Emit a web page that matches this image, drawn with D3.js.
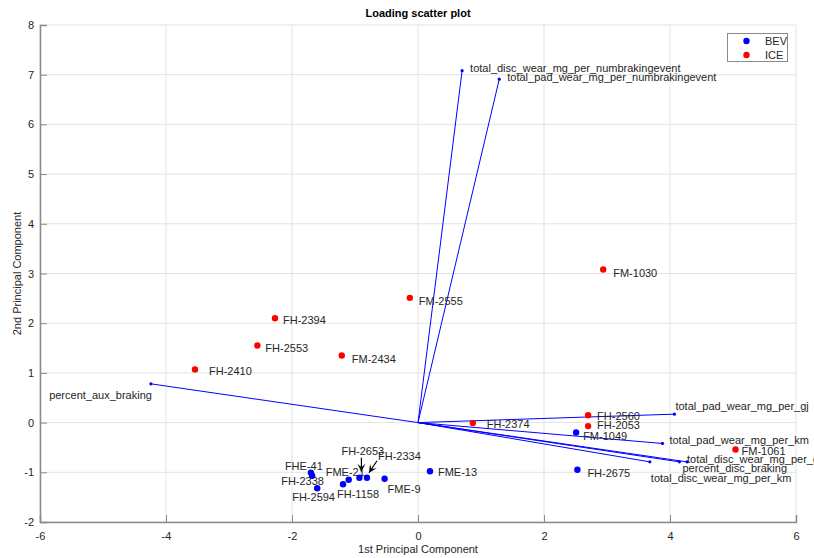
<!DOCTYPE html>
<html>
<head>
<meta charset="utf-8">
<script src="https://cdn.jsdelivr.net/npm/d3@7"></script>
<style>
  html, body { margin: 0; padding: 0; background: #fff; }
  svg { display: block; font-family: "Liberation Sans", Arial, Helvetica, sans-serif; }
</style>
</head>
<body>
<svg id="chart" width="814" height="558"></svg>
<script>
// Vehicle scores on the first two principal components
const vehicleNames = ["FM-1030", "FM-2555", "FH-2394", "FH-2553", "FM-2434", "FH-2410", "FH-2374", "FH-2560", "FH-2053", "FM-1061",
                      "FM-1049", "FH-2675", "FME-13", "FME-9", "FH-2334", "FH-2653", "FME-21", "FH-1158", "FHE-41", "FH-2338", "FH-2594"];
const vehicleGroup = ["ICE", "ICE", "ICE", "ICE", "ICE", "ICE", "ICE", "ICE", "ICE", "ICE",
                      "BEV", "BEV", "BEV", "BEV", "BEV", "BEV", "BEV", "BEV", "BEV", "BEV", "BEV"];
const pc1Scores = [2.94, -0.13, -2.27, -2.55, -1.21, -3.54, 0.87, 2.70, 2.70, 5.04,
                   2.51, 2.53, 0.19, -0.53, -0.81, -0.93, -1.10, -1.19, -1.70, -1.68, -1.60];
const pc2Scores = [3.08, 2.51, 2.10, 1.55, 1.35, 1.07, -0.01, 0.15, -0.07, -0.54,
                   -0.20, -0.95, -0.98, -1.13, -1.11, -1.11, -1.15, -1.24, -1.01, -1.07, -1.32];

// Variable loadings (scaled) drawn as vectors from the origin
const variableNames = ["total_disc_wear_mg_per_numbrakingevent", "total_pad_wear_mg_per_numbrakingevent", "percent_aux_braking",
                       "total_pad_wear_mg_per_gj", "total_pad_wear_mg_per_km", "total_disc_wear_mg_per_gj",
                       "percent_disc_braking", "total_disc_wear_mg_per_km"];
const loadingPC1 = [0.70, 1.29, -4.24, 4.07, 3.88, 4.27, 4.15, 3.68];
const loadingPC2 = [7.08, 6.91, 0.78, 0.17, -0.42, -0.79, -0.79, -0.79];

// Axis ticks
const xTicks = [-6, -4, -2, 0, 2, 4, 6];
const yTicks = [-2, -1, 0, 1, 2, 3, 4, 5, 6, 7, 8];
const legendGroups = ["BEV", "ICE"];

// Label placement (pixel offsets from each mark)
const vehicleLabelOffset = {
  "FM-1030": [10, 4], "FM-2555": [9, 3.5], "FH-2394": [8, 1.5], "FH-2553": [8, 2.5], "FM-2434": [10, 4],
  "FH-2410": [14, 2], "FH-2374": [14, 1], "FH-2560": [9, 1], "FH-2053": [9, -1], "FM-1061": [6, 2],
  "FM-1049": [7, 4], "FH-2675": [10, 3], "FME-13": [8, 1], "FME-9": [3, 10], "FH-2334": [11, -22],
  "FH-2653": [-18, -27], "FME-21": [-23, -8], "FH-1158": [-6, 10], "FHE-41": [-26, -7],
  "FH-2338": [-31, 5], "FH-2594": [-25, 9]
};
const callouts = { "FH-2653": [[2, -20], [2, -6]], "FH-2334": [[10, -17], [2, -5]] };
const variableLabelOffset = [[8, -2.5, "start"], [8, -2, "start"], [1, 11, "end"], [1, -8, "start"],
                             [7, -3, "start"], [0, -3, "start"], [3, 6, "start"], [1, 16, "start"]];

const svg = d3.select("#chart");
const margin = { left: 40, right: 18, top: 25, bottom: 36 };
const W = 814, H = 558;
const x = d3.scaleLinear().domain([-6, 6]).range([margin.left, W - margin.right]);
const y = d3.scaleLinear().domain([-2, 8]).range([H - margin.bottom, margin.top]);
const colour = { BEV: "#0000ff", ICE: "#ff0000" };
const textCol = "#262626";

// Grid
const grid = svg.append("g");
grid.selectAll(".gx").data(xTicks).join("line")
  .attr("x1", d => x(d)).attr("x2", d => x(d)).attr("y1", y(-2)).attr("y2", y(8))
  .attr("stroke", "#e3e3e3").attr("stroke-width", 1);
grid.selectAll(".gy").data(yTicks).join("line")
  .attr("x1", x(-6)).attr("x2", x(6)).attr("y1", d => y(d)).attr("y2", d => y(d))
  .attr("stroke", "#e3e3e3").attr("stroke-width", 1);

// Axes (plain hyphen for negative tick labels)
const fmt = d => String(d);
const xAxis = d3.axisBottom(x).tickValues(xTicks).tickSize(-7).tickPadding(13).tickFormat(fmt);
const yAxis = d3.axisLeft(y).tickValues(yTicks).tickSize(-7).tickPadding(13).tickFormat(fmt);
const gx = svg.append("g").attr("transform", `translate(0,${y(-2)})`).call(xAxis);
const gy = svg.append("g").attr("transform", `translate(${x(-6)},0)`).call(yAxis);
[gx, gy].forEach(g => {
  g.select(".domain").attr("stroke", "#8a8a8a").attr("stroke-width", 1.5);
  g.selectAll(".tick line").attr("stroke", "#8a8a8a");
  g.selectAll(".tick text").attr("fill", textCol).attr("font-size", 11)
    .attr("font-family", "'Liberation Sans', Arial, sans-serif");
});
gy.selectAll(".tick text").attr("dx", "7");
gx.selectAll(".tick text").attr("dy", "0.45em");

// Loading vectors
const vec = svg.append("g");
variableNames.forEach((name, i) => {
  vec.append("line")
    .attr("x1", x(0)).attr("y1", y(0))
    .attr("x2", x(loadingPC1[i])).attr("y2", y(loadingPC2[i]))
    .attr("stroke", "#0000ff").attr("stroke-width", 1);
  vec.append("circle").attr("cx", x(loadingPC1[i])).attr("cy", y(loadingPC2[i]))
    .attr("r", 1.6).attr("fill", "#0000ff");
  const o = variableLabelOffset[i];
  vec.append("text")
    .attr("x", x(loadingPC1[i]) + o[0]).attr("y", y(loadingPC2[i]) + o[1])
    .attr("dy", "0.35em").attr("text-anchor", o[2])
    .attr("font-size", 11).attr("fill", textCol).text(name);
});

// Vehicle labels and callout arrows
const lab = svg.append("g");
vehicleNames.forEach((name, i) => {
  const px = x(pc1Scores[i]), py = y(pc2Scores[i]);
  const o = vehicleLabelOffset[name];
  lab.append("text").attr("x", px + o[0]).attr("y", py + o[1]).attr("dy", "0.35em")
    .attr("font-size", 11).attr("fill", textCol).text(name);
  if (callouts[name]) {
    const [t, h] = callouts[name];
    const x0 = px + t[0], y0 = py + t[1], x1 = px + h[0], y1 = py + h[1];
    lab.append("line").attr("x1", x0).attr("y1", y0).attr("x2", x1).attr("y2", y1)
      .attr("stroke", "#000").attr("stroke-width", 1.2);
    const ang = Math.atan2(y1 - y0, x1 - x0);
    const L = 8, Wd = 4;
    const bx = x1 - L * Math.cos(ang), by = y1 - L * Math.sin(ang);
    const nx = -Math.sin(ang), ny = Math.cos(ang);
    const mx = x1 - 0.55 * L * Math.cos(ang), my = y1 - 0.55 * L * Math.sin(ang);
    lab.append("path")
      .attr("d", `M${x1},${y1}L${bx + nx * Wd},${by + ny * Wd}L${mx},${my}L${bx - nx * Wd},${by - ny * Wd}Z`)
      .attr("fill", "#000");
  }
});

// Vehicle score points
svg.append("g").selectAll("circle").data(vehicleNames).join("circle")
  .attr("cx", (d, i) => x(pc1Scores[i])).attr("cy", (d, i) => y(pc2Scores[i]))
  .attr("r", 3.2).attr("fill", (d, i) => colour[vehicleGroup[i]]);

// Title and axis labels
svg.append("text").attr("x", x(0)).attr("y", 13).attr("dy", "0.35em").attr("text-anchor", "middle")
  .attr("font-size", 11).attr("font-weight", "bold").attr("fill", "#000").text("Loading scatter plot");
svg.append("text").attr("x", x(0)).attr("y", 549).attr("dy", "0.35em").attr("text-anchor", "middle")
  .attr("font-size", 11).attr("fill", textCol).text("1st Principal Component");
svg.append("text").attr("transform", `translate(17,${y(3)}) rotate(-90)`).attr("dy", "0.35em")
  .attr("text-anchor", "middle").attr("font-size", 11).attr("fill", textCol).text("2nd Principal Component");

// Legend
const lg = svg.append("g");
lg.append("rect").attr("x", 727.5).attr("y", 33.5).attr("width", 60).attr("height", 28)
  .attr("fill", "#fff").attr("stroke", "#8a8a8a").attr("stroke-width", 1);
legendGroups.forEach((g, i) => {
  lg.append("circle").attr("cx", 746.5).attr("cy", 41 + i * 14).attr("r", 3.2).attr("fill", colour[g]);
  lg.append("text").attr("x", 765).attr("y", 41 + i * 14).attr("dy", "0.35em")
    .attr("font-size", 11).attr("fill", textCol).text(g);
});
</script>
</body>
</html>
